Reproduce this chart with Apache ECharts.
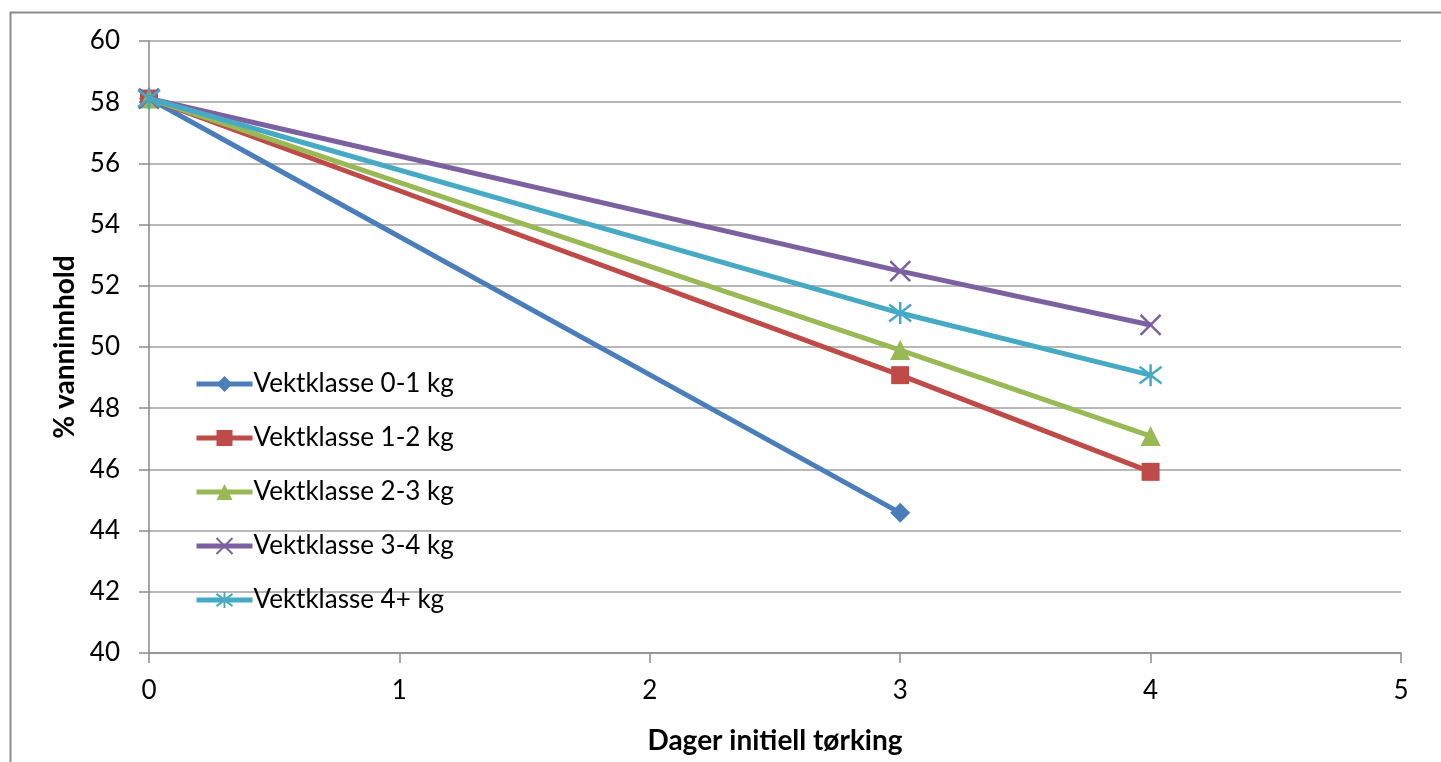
<!DOCTYPE html>
<html><head><meta charset="utf-8">
<script src="https://cdn.jsdelivr.net/npm/echarts@6/dist/echarts.min.js"></script>
<style>html,body{margin:0;padding:0;background:#fff}#c{width:1441px;height:762px}</style>
</head><body><div id="c"></div>
<script>
const days = [0, 3, 4];
const seriesNames = ['Vektklasse 0-1 kg','Vektklasse 1-2 kg','Vektklasse 2-3 kg','Vektklasse 3-4 kg','Vektklasse 4+ kg'];
const kl01 = [58.12, 44.58, null];
const kl12 = [58.12, 49.08, 45.92];
const kl23 = [58.12, 49.90, 47.09];
const kl34 = [58.12, 52.48, 50.72];
const kl4p = [58.12, 51.11, 49.08];
const yTicks = [40,42,44,46,48,50,52,54,56,58,60];
const xTicks = [0,1,2,3,4,5];

const colors = ['#4a7ebb','#be4b48','#98b954','#7d60a0','#46aac5'];
const symbols = ['diamond','rect','triangle','path://M0,0L10,10M10,0L0,10','path://M0,0L10,10M10,0L0,10M5,-1.5L5,11.5'];
const sizes = [20,18,20,20,22];
const values = [kl01,kl12,kl23,kl34,kl4p];
const font = 'Lato, "Open Sans", sans-serif';

const series = values.map((v,i)=>{
  const stroke = i>=3;
  return {
    name: seriesNames[i],
    type: 'line',
    data: days.map((d,j)=> v[j]==null ? null : [d, v[j]]),
    symbol: symbols[i],
    symbolSize: sizes[i],
    showAllSymbol: true,
    lineStyle: {color: colors[i], width: 5},
    itemStyle: stroke ? {color: 'rgba(0,0,0,0)', borderColor: colors[i], borderWidth: 2.5}
                      : {color: colors[i], borderColor: colors[i], borderWidth: 0},
    emphasis: {disabled: true},
    z: 2 + i
  };
});

const chart = echarts.init(document.getElementById('c'), null, {renderer:'canvas'});
chart.setOption({
  animation: false,
  backgroundColor: '#fff',
  graphic: [{type:'rect', shape:{x:10.5,y:12.5,width:1500,height:800}, style:{fill:'none', stroke:'#8c8c8c', lineWidth:2}, silent:true}],
  grid: {left:149, right:40, top:41, bottom:109, containLabel:false},
  legend: {
    orient:'vertical', left:189, top:366,
    itemWidth:56, itemHeight:20, itemGap:28,
    lineStyle:{width:5},
    textStyle:{fontFamily:font, fontSize:26, color:'#000', lineHeight:26, padding:[0,0,0,-4]},
    data: seriesNames
  },
  xAxis: {
    type:'value', min:0, max:5, interval:1,
    name:'Dager initiell tørking', nameLocation:'middle', nameGap:74,
    nameTextStyle:{fontFamily:font, fontSize:28, fontWeight:'bold', color:'#000'},
    axisLine:{show:true, lineStyle:{color:'#8a8a8a', width:1.5}},
    axisTick:{show:true, length:10, lineStyle:{color:'#8a8a8a', width:1.5}},
    axisLabel:{fontFamily:font, fontSize:26, color:'#000', margin:25, formatter:(v)=>xTicks.includes(v)?String(v):''},
    splitLine:{show:false}
  },
  yAxis: {
    type:'value', min:40, max:60, interval:2,
    name:'% vanninnhold', nameLocation:'middle', nameGap:67, nameRotate:90,
    nameTextStyle:{fontFamily:font, fontSize:28, fontWeight:'bold', color:'#000'},
    axisLine:{show:true, lineStyle:{color:'#8a8a8a', width:1.5}},
    axisTick:{show:true, length:10, lineStyle:{color:'#8a8a8a', width:1.5}},
    axisLabel:{fontFamily:font, fontSize:26, color:'#000', margin:29, formatter:(v)=>yTicks.includes(v)?String(v):''},
    splitLine:{show:true, lineStyle:{color:'#a0a0a0', width:1.5}}
  },
  series
});
</script></body></html>
